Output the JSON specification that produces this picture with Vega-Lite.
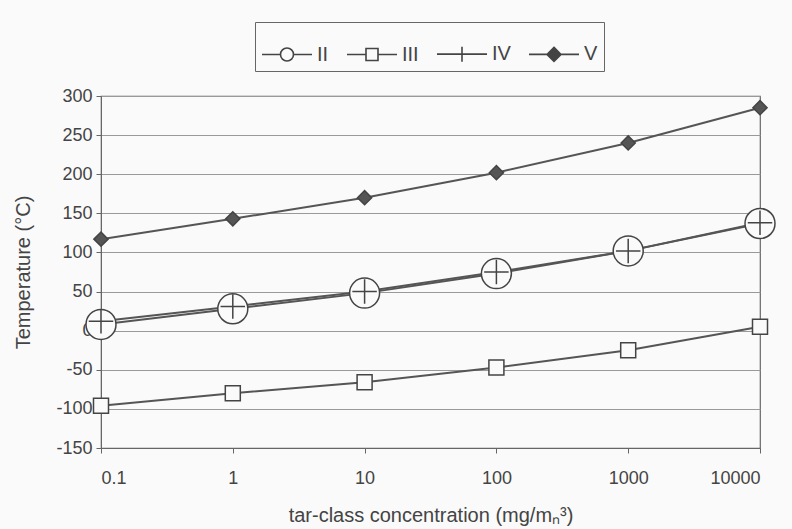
{
  "$schema": "https://vega.github.io/schema/vega-lite/v6.json",
  "width": 659,
  "height": 352,
  "autosize": "none",
  "padding": {"left": 101, "top": 96, "right": 32, "bottom": 81},
  "background": "#fafafa",
  "config": {
    "font": "Liberation Sans",
    "view": {"stroke": "#666", "strokeWidth": 1.2},
    "axis": {"labelFont": "Liberation Sans", "titleFont": "Liberation Sans", "labelFontSize": 18, "titleFontSize": 20, "labelColor": "#444", "titleColor": "#444", "titleFontWeight": "normal", "domainColor": "#666", "tickColor": "#666"}
  },
  "data": {"values": [
    {"series": "II", "c": 0.1, "t": 8},
    {"series": "II", "c": 1, "t": 28},
    {"series": "II", "c": 10, "t": 48},
    {"series": "II", "c": 100, "t": 73},
    {"series": "II", "c": 1000, "t": 102},
    {"series": "II", "c": 10000, "t": 137},
    {"series": "III", "c": 0.1, "t": -96},
    {"series": "III", "c": 1, "t": -80},
    {"series": "III", "c": 10, "t": -66},
    {"series": "III", "c": 100, "t": -47},
    {"series": "III", "c": 1000, "t": -25},
    {"series": "III", "c": 10000, "t": 5},
    {"series": "IV", "c": 0.1, "t": 12},
    {"series": "IV", "c": 1, "t": 31},
    {"series": "IV", "c": 10, "t": 50},
    {"series": "IV", "c": 100, "t": 75},
    {"series": "IV", "c": 1000, "t": 102},
    {"series": "IV", "c": 10000, "t": 138},
    {"series": "V", "c": 0.1, "t": 117},
    {"series": "V", "c": 1, "t": 143},
    {"series": "V", "c": 10, "t": 170},
    {"series": "V", "c": 100, "t": 202},
    {"series": "V", "c": 1000, "t": 240},
    {"series": "V", "c": 10000, "t": 285}
  ]},
  "encoding": {
    "x": {"field": "c", "type": "quantitative", "scale": {"type": "log", "domain": [0.1, 10000], "nice": false},
      "axis": {"title": "tar-class concentration (mg/mₙ³)", "values": [0.1, 1, 10, 100, 1000, 10000], "format": "~g", "grid": false, "labelPadding": 16, "titlePadding": 18, "tickSize": 5}},
    "y": {"field": "t", "type": "quantitative", "scale": {"domain": [-150, 300], "nice": false},
      "axis": {"title": "Temperature (°C)", "values": [-150, -100, -50, 0, 50, 100, 150, 200, 250, 300], "labelExpr": "datum.value + ''", "gridColor": "#999", "gridWidth": 1, "labelPadding": 4, "titlePadding": 22, "tickSize": 5}}
  },
  "layer": [
    {"mark": {"type": "line", "color": "#555", "strokeWidth": 2}, "encoding": {"detail": {"field": "series"}}},
    {"mark": {"type": "point", "filled": false, "stroke": "#444", "strokeWidth": 1.5, "opacity": 1},
      "encoding": {
        "shape": {"field": "series", "type": "nominal", "scale": {"domain": ["II", "III", "IV", "V"], "range": ["circle", "square", "M-1,0L1,0M0,-1L0,1", "diamond"]}, "legend": null},
        "size": {"field": "series", "type": "nominal", "scale": {"type": "ordinal", "domain": ["II", "III", "IV", "V"], "range": [900, 225, 600, 200]}, "legend": null},
        "fill": {"field": "series", "type": "nominal", "scale": {"domain": ["II", "III", "IV", "V"], "range": ["#fafafa", "#fafafa", "transparent", "#555"]}, "legend": null}
      }},
    {"mark": {"type": "point", "opacity": 0, "filled": false},
      "encoding": {
        "shape": {"field": "series", "type": "nominal", "scale": {"domain": ["II", "III", "IV", "V"], "range": [
          "M-1,0L-0.26,0M0.26,0L1,0M-0.26,0A0.26,0.26 0 1,0 0.26,0A0.26,0.26 0 1,0 -0.26,0Z",
          "M-1,0L-0.24,0M0.24,0L1,0M-0.24,-0.24L0.24,-0.24L0.24,0.24L-0.24,0.24Z",
          "M-1,0L1,0M0,-0.3L0,0.3",
          "M-1,0L-0.28,0M0.28,0L1,0M0,-0.28L0.28,0L0,0.28L-0.28,0ZM0,-0.2L0.2,0L0,0.2L-0.2,0ZM0,-0.12L0.12,0L0,0.12L-0.12,0ZM0,-0.05L0.05,0L0,0.05L-0.05,0Z"]},
          "legend": {"title": null, "orient": "none", "legendX": 154, "legendY": -74, "direction": "horizontal", "symbolSize": 2500, "symbolStrokeColor": "#444", "symbolFillColor": "#fafafa", "symbolStrokeWidth": 1.6, "symbolOpacity": 1, "labelFontSize": 20, "labelColor": "#444", "labelFont": "Liberation Sans", "strokeColor": "#666", "padding": 6, "columnPadding": 14, "labelOffset": 4}}
      }}
  ],
  "resolve": {"scale": {"shape": "independent"}}
}
